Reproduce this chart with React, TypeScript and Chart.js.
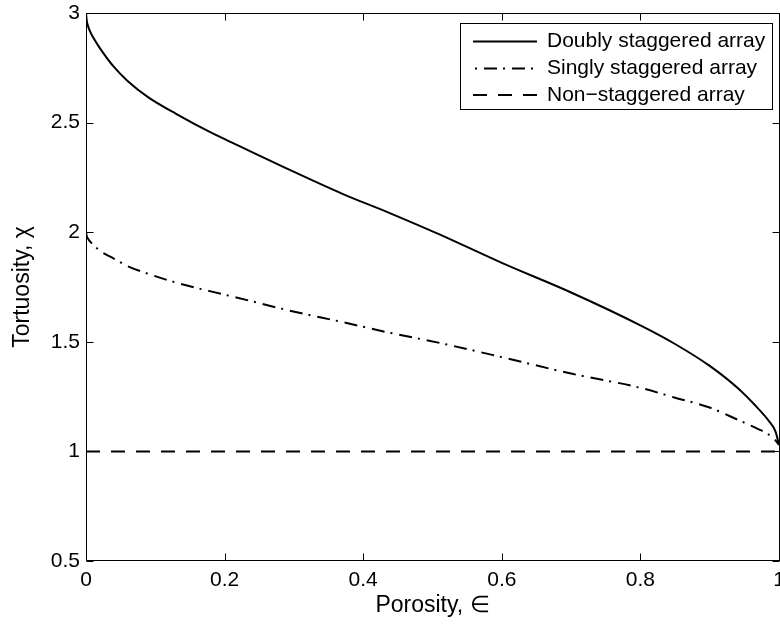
import React, { useEffect, useRef } from 'react';
import { Chart, registerables } from 'chart.js';

Chart.register(...registerables);

// ---- Data ----
const porosity = [0, 0.001, 0.003, 0.006, 0.01, 0.02, 0.04, 0.06, 0.09, 0.13, 0.18, 0.22, 0.29, 0.37, 0.44, 0.51, 0.6, 0.7, 0.8, 0.85, 0.9, 0.94, 0.97, 0.985, 0.995, 1];
const doublyStaggered = [3.0, 2.966, 2.94, 2.915, 2.89, 2.84, 2.755, 2.69, 2.615, 2.54, 2.455, 2.395, 2.29, 2.175, 2.085, 1.99, 1.86, 1.725, 1.575, 1.49, 1.39, 1.29, 1.195, 1.14, 1.09, 1.03];
const singlyStaggered = [2.0, 1.983, 1.97, 1.957, 1.945, 1.915, 1.88, 1.845, 1.81, 1.77, 1.73, 1.70, 1.645, 1.59, 1.54, 1.495, 1.43, 1.355, 1.29, 1.245, 1.2, 1.145, 1.102, 1.077, 1.05, 1.03];
const nonStaggeredX = [0, 1];
const nonStaggered = [1, 1];

const seriesLabels = ['Doubly staggered array', 'Singly staggered array', 'Non\u2212staggered array'];
const xTicks = [0, 0.2, 0.4, 0.6, 0.8, 1];
const yTicks = [0.5, 1, 1.5, 2, 2.5, 3];
const xTitle = 'Porosity, \u2208';
const yTitle = 'Tortuosity, \u03c7';

const FONT = "'Liberation Sans', Arial, Helvetica, sans-serif";

const toPoints = (xs: number[], ys: number[]) => xs.map((x, i) => ({ x, y: ys[i] }));

const frameAndLegend = {
  id: 'frameAndLegend',
  afterDatasetsDraw(chart: any) {
    const { ctx, chartArea: a, scales } = chart;
    const sx = scales.x;
    const sy = scales.y;
    const L = Math.round(a.left) + 0.5;
    const R = Math.round(a.right) + 0.5;
    const T = Math.round(a.top) + 0.5;
    const B = Math.round(a.bottom) - 0.5;
    ctx.save();
    ctx.strokeStyle = '#000';
    ctx.lineWidth = 1;
    ctx.setLineDash([]);
    ctx.strokeRect(L, T, R - L, B - T);
    const tl = 7;
    ctx.beginPath();
    xTicks.forEach((v) => {
      const px = Math.round(sx.getPixelForValue(v)) + 0.5;
      ctx.moveTo(px, B);
      ctx.lineTo(px, B - tl);
      ctx.moveTo(px, T);
      ctx.lineTo(px, T + tl);
    });
    yTicks.forEach((v) => {
      const py = Math.round(sy.getPixelForValue(v)) + 0.5;
      ctx.moveTo(L, py);
      ctx.lineTo(L + tl, py);
      ctx.moveTo(R, py);
      ctx.lineTo(R - tl, py);
    });
    ctx.stroke();

    // Legend box
    const lx = 460.5, ly = 23.5, lw = 312, lh = 86;
    ctx.fillStyle = '#fff';
    ctx.fillRect(lx, ly, lw, lh);
    ctx.strokeRect(lx, ly, lw, lh);
    const rows = [41.5, 68.5, 95];
    const offsets = [0, 17, 0];
    chart.data.datasets.forEach((ds: any, i: number) => {
      const yy = rows[i];
      ctx.save();
      ctx.strokeStyle = ds.borderColor;
      ctx.lineWidth = ds.borderWidth;
      ctx.setLineDash(ds.borderDash || []);
      ctx.lineDashOffset = offsets[i];
      ctx.beginPath();
      ctx.moveTo(473, yy);
      ctx.lineTo(537, yy);
      ctx.stroke();
      ctx.restore();
      ctx.fillStyle = '#000';
      ctx.font = `21px ${FONT}`;
      ctx.textAlign = 'left';
      ctx.textBaseline = 'middle';
      ctx.fillText(ds.label, 547, yy);
    });
    ctx.restore();
  },
};

export default function App() {
  const ref = useRef<HTMLCanvasElement>(null);

  useEffect(() => {
    if (!ref.current) return;
    const chart = new Chart(ref.current, {
      type: 'line',
      data: {
        datasets: [
          {
            label: seriesLabels[0],
            data: toPoints(porosity, doublyStaggered),
            borderColor: '#000',
            borderWidth: 2,
            borderDash: [],
            pointRadius: 0,
            fill: false,
            cubicInterpolationMode: 'monotone',
          },
          {
            label: seriesLabels[1],
            data: toPoints(porosity, singlyStaggered),
            borderColor: '#000',
            borderWidth: 2,
            borderDash: [13, 6, 2, 7],
            pointRadius: 0,
            fill: false,
            cubicInterpolationMode: 'monotone',
          },
          {
            label: seriesLabels[2],
            data: toPoints(nonStaggeredX, nonStaggered),
            borderColor: '#000',
            borderWidth: 2,
            borderDash: [14, 11],
            pointRadius: 0,
            fill: false,
          },
        ],
      },
      options: {
        animation: false,
        responsive: false,
        maintainAspectRatio: false,
        layout: { padding: { top: 13, right: 1, bottom: 0, left: 0 } },
        plugins: {
          legend: { display: false },
          tooltip: { enabled: false },
        },
        scales: {
          x: {
            type: 'linear',
            min: 0,
            max: 1,
            grid: { display: false, drawTicks: false },
            border: { display: false },
            ticks: {
              stepSize: 0.2,
              padding: 7,
              color: '#000',
              font: { family: FONT, size: 21 },
              maxRotation: 0,
              callback: (v: any) => String(Math.round(Number(v) * 10) / 10),
            },
            title: {
              display: true,
              text: xTitle,
              color: '#000',
              font: { family: FONT, size: 23 },
              padding: { top: 0, bottom: 8 },
            },
            afterFit: (s: any) => {
              s.height = 66;
              s.paddingLeft = 0;
              s.paddingRight = 0;
            },
          },
          y: {
            type: 'linear',
            min: 0.5,
            max: 3,
            grid: { display: false, drawTicks: false },
            border: { display: false },
            ticks: {
              stepSize: 0.5,
              padding: 6,
              color: '#000',
              font: { family: FONT, size: 21 },
              callback: (v: any) => String(Math.round(Number(v) * 10) / 10),
            },
            title: {
              display: true,
              text: yTitle,
              color: '#000',
              font: { family: FONT, size: 23 },
              padding: { top: 9, bottom: 0 },
            },
            afterFit: (s: any) => {
              s.width = 86;
              s.paddingTop = 0;
              s.paddingBottom = 0;
            },
          },
        },
      },
      plugins: [frameAndLegend],
    } as any);
    return () => chart.destroy();
  }, []);

  return (
    <div style={{ position: 'absolute', left: 0, top: 0, width: 780, height: 627, background: '#fff' }}>
      <canvas ref={ref} width={780} height={627} style={{ display: 'block', width: 780, height: 627 }} />
    </div>
  );
}
